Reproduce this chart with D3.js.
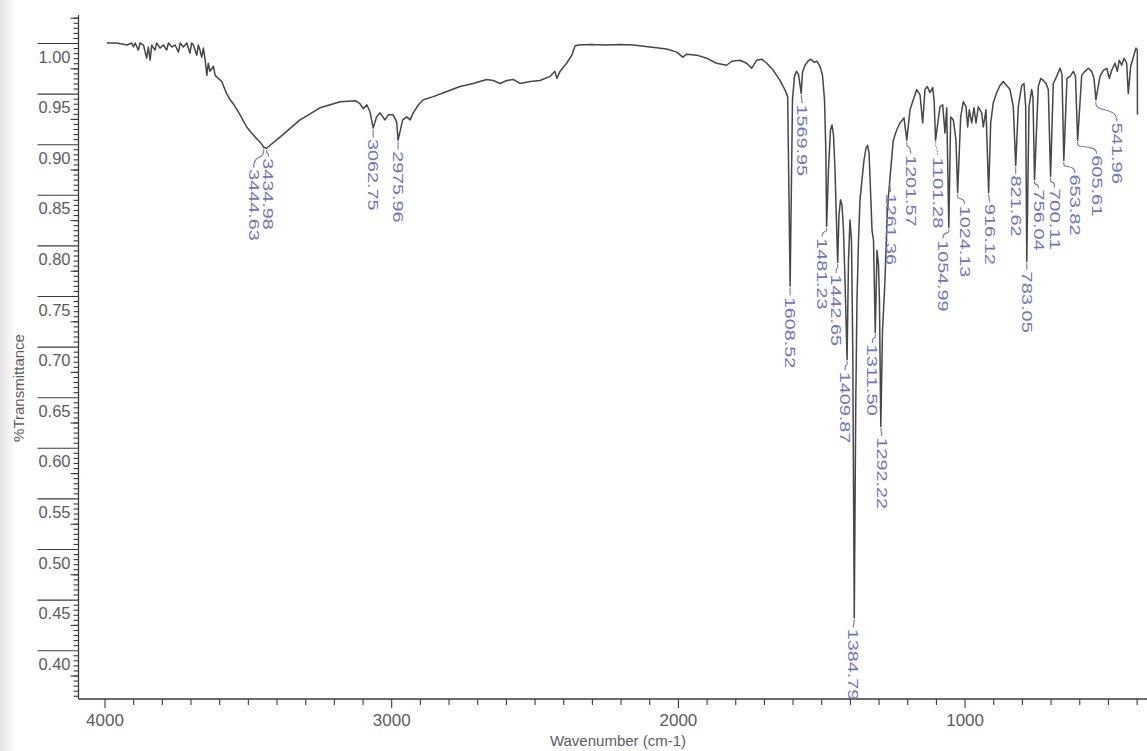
<!DOCTYPE html>
<html>
<head>
<meta charset="utf-8">
<title>FT-IR spectrum</title>
<script src="https://cdn.jsdelivr.net/npm/d3@7"></script>
<style>
  html, body { margin: 0; padding: 0; background: #ffffff; }
  svg { display: block; }
  text { font-family: "Liberation Sans", Arial, Helvetica, sans-serif; }
</style>
</head>
<body>
<svg id="chart" width="1147" height="751"></svg>
<script>
// ---- Spectrum: wavenumber (cm-1) and transmittance, read point by point ----
const spectrumWavenumber = [
  3992, 3957, 3922, 3905, 3899, 3893, 3882, 3876, 3864, 3853, 3847, 3841, 3835, 3824, 3818, 3806,
  3795, 3783, 3777, 3765, 3754, 3742, 3736, 3725, 3713, 3702, 3696, 3690, 3678, 3673, 3667, 3661,
  3655, 3649, 3643, 3638, 3632, 3620, 3614, 3603, 3591, 3574, 3562, 3551, 3527, 3504, 3481, 3457,
  3444.63, 3434.98,
  3388, 3318, 3248, 3178, 3125, 3109, 3097, 3085, 3074, 3062.75, 3051, 3039, 3022, 3010, 2993, 2981,
  2975.96, 2960, 2946, 2934, 2923, 2905, 2888, 2853, 2806, 2760, 2714, 2667, 2644, 2620, 2597, 2574,
  2551, 2515,
  2481, 2446, 2429, 2422, 2411, 2388, 2370, 2359, 2347, 2307, 2248, 2202, 2156, 2097, 2039, 2004,
  1983, 1969, 1934, 1900, 1865, 1830, 1812, 1783, 1760, 1743, 1725, 1708, 1690, 1667, 1644, 1627, 1617,
  1608.52, 1600.3, 1593.3, 1586.3, 1579.3, 1574.8, 1569.95, 1565.4, 1556.7, 1546.2, 1535.7, 1525.3,
  1514.8, 1504.3, 1495.6, 1488.6, 1484, 1481.23, 1474.7, 1467.7, 1462.5, 1457.2, 1452.0, 1447,
  1442.65, 1438.1, 1432.8, 1427.6, 1422.4, 1417.1, 1409.87, 1404.9, 1399.7, 1394.5, 1390, 1384.79,
  1379.5, 1375.3, 1370.0, 1364.8, 1357.8, 1350.9, 1343.9, 1338.6, 1333.4, 1328.2, 1322.9, 1317.7,
  1311.50, 1305.5, 1300.3, 1297, 1292.22, 1286.3, 1281.0, 1277.6, 1270.6, 1265.4, 1261.36, 1254.9,
  1248.7, 1236.8, 1225.3, 1211.3, 1201.57, 1190.4, 1178.9, 1167.0, 1155.5, 1146.1, 1138.1, 1130.1,
  1120.7, 1111.2, 1106, 1101.28, 1085.8, 1076.4, 1068.3, 1062.4, 1054.99, 1048.5, 1039.4, 1030.0,
  1024.13, 1013.6, 1004.5, 995.1, 989.2, 983.6, 975.2, 967.2, 960.2, 952.2, 940.3, 934.7, 925.3,
  916.12, 908.9, 899.9, 888.0, 876.5, 865.0, 853.1, 841.6, 830.1, 821.62, 812.7, 800.8, 792.8, 786.9,
  783.05, 775.3, 765.9, 761.4, 756.04, 742.9, 734.5, 725.5, 716.0, 708.0, 700.11, 690.6, 678.7, 667.2,
  660.2, 653.82, 642.8, 632.3, 620.8, 613.2, 605.61, 591.5, 580.0, 568.5, 556.7, 548.6, 541.96, 527.7,
  516.2, 504.3, 495.3, 486.9, 475.4, 467.4, 460.4, 452.0, 444.0, 434.6, 429.0, 420.6, 411.5, 402.1,
  397.6, 397.0
];
const spectrumTransmittance = [
  1.000, 1.000, 0.998, 1.000, 0.996, 1.000, 0.993, 1.000, 0.998, 0.985, 0.996, 0.983, 0.998, 0.993, 1.000, 0.995,
  0.998, 0.993, 1.000, 0.996, 0.998, 0.991, 1.000, 0.996, 1.000, 0.990, 1.000, 0.998, 0.988, 0.998, 0.993, 0.986,
  0.995, 0.983, 0.968, 0.980, 0.972, 0.977, 0.968, 0.965, 0.962, 0.950, 0.944, 0.940, 0.929, 0.917, 0.909, 0.902,
  0.897, 0.896,
  0.907, 0.924, 0.936, 0.942, 0.943, 0.940, 0.935, 0.939, 0.932, 0.916, 0.927, 0.931, 0.924, 0.929, 0.929, 0.922,
  0.904, 0.924, 0.927, 0.924, 0.931, 0.939, 0.944, 0.947, 0.952, 0.957, 0.960, 0.964, 0.963, 0.960, 0.963, 0.964,
  0.960, 0.962,
  0.963, 0.967, 0.972, 0.965, 0.972, 0.980, 0.988, 0.997, 0.998, 0.9985, 0.998, 0.9985, 0.998, 0.996, 0.994, 0.991,
  0.986, 0.989, 0.988, 0.985, 0.980, 0.978, 0.982, 0.983, 0.980, 0.975, 0.983, 0.984, 0.980, 0.973, 0.963, 0.954, 0.947,
  0.760, 0.944, 0.967, 0.972, 0.969, 0.960, 0.950, 0.971, 0.978, 0.982, 0.984, 0.981,
  0.982, 0.977, 0.968, 0.944, 0.894, 0.819, 0.875, 0.914, 0.919, 0.909, 0.875, 0.825,
  0.783, 0.830, 0.845, 0.840, 0.815, 0.766, 0.687, 0.786, 0.825, 0.805, 0.697, 0.432,
  0.647, 0.746, 0.805, 0.845, 0.865, 0.884, 0.896, 0.899, 0.892, 0.855, 0.815, 0.805,
  0.714, 0.795, 0.781, 0.746, 0.621, 0.716, 0.746, 0.766, 0.825, 0.850, 0.862, 0.884,
  0.904, 0.914, 0.921, 0.926, 0.904, 0.934, 0.944, 0.954, 0.949, 0.921, 0.954, 0.957,
  0.951, 0.956, 0.942, 0.904, 0.937, 0.939, 0.911, 0.936, 0.818, 0.927, 0.924, 0.904,
  0.852, 0.927, 0.942, 0.937, 0.917, 0.934, 0.921, 0.936, 0.921, 0.937, 0.931, 0.917, 0.934,
  0.852, 0.921, 0.941, 0.951, 0.958, 0.962, 0.958, 0.954, 0.937, 0.879, 0.937, 0.958, 0.960, 0.937,
  0.784, 0.937, 0.954, 0.946, 0.865, 0.957, 0.965, 0.963, 0.960, 0.954, 0.868, 0.960, 0.967, 0.975,
  0.969, 0.884, 0.965, 0.967, 0.972, 0.967, 0.904, 0.968, 0.972, 0.975, 0.972, 0.965, 0.944, 0.967,
  0.973, 0.975, 0.965, 0.973, 0.980, 0.972, 0.983, 0.978, 0.985, 0.980, 0.950, 0.977, 0.986, 0.995,
  0.993, 0.929
];

// ---- Peak annotations (wavenumbers printed on the chart) ----
const peakWavenumbers = [
  3444.63, 3434.98, 3062.75, 2975.96, 1608.52, 1569.95, 1481.23, 1442.65, 1409.87, 1384.79,
  1311.50, 1292.22, 1261.36, 1201.57, 1101.28, 1054.99, 1024.13, 916.12, 821.62, 783.05,
  756.04, 700.11, 653.82, 605.61, 541.96
];

// ---- Axis tick labels ----
const xTickLabels = [4000, 3000, 2000, 1000];
const yTickLabels = [1.00, 0.95, 0.90, 0.85, 0.80, 0.75, 0.70, 0.65, 0.60, 0.55, 0.50, 0.45, 0.40];

// ---- Layout ----
const W = 1147, H = 751;
const axisLeftX = 78.5, axisBottomY = 699, axisTopY = 15;
const inkAxis = "#3a3a3a", inkText = "#5c5c5c", inkTrace = "#464646", inkPeak = "#7075bd";

// label placement nudges: horizontal shift of the label column and gap below the peak tip
const labelPlacement = {
  "3444.63": { dx: -10, gap: 21 }, "3434.98": { dx: 2, gap: 9 },
  "3062.75": { dx: 0, gap: 10 },  "2975.96": { dx: 0, gap: 10 },
  "1608.52": { dx: 0, gap: 10 },  "1569.95": { dx: 1, gap: 10 },
  "1481.23": { dx: -4.5, gap: 11 }, "1442.65": { dx: -1.5, gap: 11 },
  "1409.87": { dx: -2, gap: 11 }, "1384.79": { dx: -1, gap: 10 },
  "1311.50": { dx: -3, gap: 11 }, "1292.22": { dx: 1, gap: 10 },
  "1261.36": { dx: 1, gap: 10 },  "1201.57": { dx: 4, gap: 14 },
  "1101.28": { dx: 2, gap: 16, dotted: true }, "1054.99": { dx: -6, gap: 12 },
  "1024.13": { dx: 7, gap: 12 },  "916.12": { dx: 1, gap: 10 },
  "821.62": { dx: 0, gap: 9 },    "783.05": { dx: 0, gap: 9 },
  "756.04": { dx: 4, gap: 9 },    "700.11": { dx: 4, gap: 11 },
  "653.82": { dx: 11, gap: 13 },  "605.61": { dx: 19, gap: 14 },
  "541.96": { dx: 21, gap: 22 }
};

const svg = d3.select("#chart");

// slightly darker scanner edge on the far left
const defs = svg.append("defs");
const edge = defs.append("linearGradient").attr("id", "edgeShade").attr("x1", 0).attr("x2", 1).attr("y1", 0).attr("y2", 0);
edge.append("stop").attr("offset", 0).attr("stop-color", "#e2e2e2");
edge.append("stop").attr("offset", 1).attr("stop-color", "#ffffff");
svg.append("rect").attr("x", 0).attr("y", 0).attr("width", W).attr("height", H).attr("fill", "#ffffff");
svg.append("rect").attr("x", 0).attr("y", 0).attr("width", 16).attr("height", H).attr("fill", "url(#edgeShade)");

const x = d3.scaleLinear().domain([4000, 400]).range([104.5, 1136.6]);
const y = d3.scaleLinear().domain([1.0, 0.4]).range([43, 650.2]);

// ---- Y axis ----
const yMinor = d3.range(0.355, 1.0276, 0.005).filter(v => Math.abs(Math.round(v * 20) - v * 20) > 1e-6);
const yMid = yMinor.filter(v => Math.abs(Math.round(v * 40) - v * 40) < 1e-6);
const gY = svg.append("g").attr("transform", `translate(${axisLeftX},0)`);
gY.append("g").call(d3.axisLeft(y).tickValues(yMinor).tickSize(5).tickFormat(""))
  .call(g => g.select(".domain").remove());
gY.append("g").call(d3.axisLeft(y).tickValues(yMid).tickSize(8).tickFormat(""))
  .call(g => g.select(".domain").remove());
gY.append("g").call(d3.axisLeft(y).tickValues(yTickLabels).tickSize(41).tickFormat(d3.format(".2f")))
  .call(g => g.select(".domain").remove())
  .call(g => g.selectAll("text")
    .attr("x", -8).attr("y", 19).attr("dy", null)
    .attr("fill", inkText).style("font-size", "16.5px"));
gY.selectAll(".tick line").attr("stroke", inkAxis).attr("stroke-width", 1.1);
gY.append("line").attr("x1", 0).attr("x2", 0).attr("y1", axisTopY).attr("y2", axisBottomY)
  .attr("stroke", inkAxis).attr("stroke-width", 1.3);

// ---- X axis ----
const xMinor = d3.range(3900, 399, -100).filter(v => v % 1000 !== 0);
const gX = svg.append("g").attr("transform", `translate(0,${axisBottomY})`);
gX.append("g").call(d3.axisBottom(x).tickValues(xMinor).tickSize(6).tickFormat(""))
  .call(g => g.select(".domain").remove());
gX.append("g").call(d3.axisBottom(x).tickValues(xTickLabels).tickSize(9).tickFormat(d3.format("d")))
  .call(g => g.select(".domain").remove())
  .call(g => g.selectAll("text")
    .attr("y", 27).attr("dy", null)
    .attr("fill", inkText).style("font-size", "17px"));
gX.selectAll(".tick line").attr("stroke", inkAxis).attr("stroke-width", 1.1);
gX.append("line").attr("x1", axisLeftX).attr("x2", W).attr("y1", 0).attr("y2", 0)
  .attr("stroke", inkAxis).attr("stroke-width", 1.3);

// ---- Axis titles ----
svg.append("text").attr("x", 618).attr("y", 746).attr("text-anchor", "middle")
  .attr("fill", inkText).style("font-size", "15px").text("Wavenumber (cm-1)");
svg.append("text").attr("transform", "translate(24,388) rotate(-90)").attr("text-anchor", "middle")
  .attr("fill", inkText).style("font-size", "15px").text("%Transmittance");

// ---- Spectrum trace ----
const spectrum = spectrumWavenumber.map((w, i) => ({ w, t: spectrumTransmittance[i] }));
svg.append("defs").append("clipPath").attr("id", "plotClip")
  .append("rect").attr("x", axisLeftX).attr("y", 0).attr("width", W - axisLeftX).attr("height", axisBottomY);
svg.append("path")
  .datum(spectrum)
  .attr("clip-path", "url(#plotClip)")
  .attr("fill", "none")
  .attr("stroke", inkTrace)
  .attr("stroke-width", 1.5)
  .attr("stroke-linejoin", "round")
  .attr("d", d3.line().x(d => x(d.w)).y(d => y(d.t)));

// ---- Peak labels ----
const gPeaks = svg.append("g");
peakWavenumbers.forEach(w => {
  const label = w.toFixed(2);
  const pt = spectrum.find(d => Math.abs(d.w - w) < 1e-6);
  const px = x(w), py = y(pt.t);
  const p = labelPlacement[label] || { dx: 0, gap: 10 };
  const tx = px + p.dx, ty = py + p.gap;
  const path = d3.path();
  path.moveTo(px, py + 1.5);
  if (Math.abs(p.dx) < 1.5) {
    path.lineTo(tx, ty - 0.5);
  } else {
    path.lineTo(px, py + 4);
    path.bezierCurveTo(px, py + p.gap * 0.6, tx, py + p.gap * 0.3, tx, ty - 0.5);
  }
  gPeaks.append("path").attr("d", path.toString())
    .attr("fill", "none").attr("stroke", inkPeak).attr("stroke-width", 1.1)
    .attr("stroke-dasharray", p.dotted ? "1.5,1.5" : null);
  gPeaks.append("text")
    .attr("transform", `translate(${tx},${ty + 1}) rotate(90)`)
    .attr("dominant-baseline", "central")
    .attr("fill", inkPeak)
    .style("font-size", "14px")
    .attr("textLength", label.length * 10.2)
    .attr("lengthAdjust", "spacingAndGlyphs")
    .text(label);
});
</script>
</body>
</html>
